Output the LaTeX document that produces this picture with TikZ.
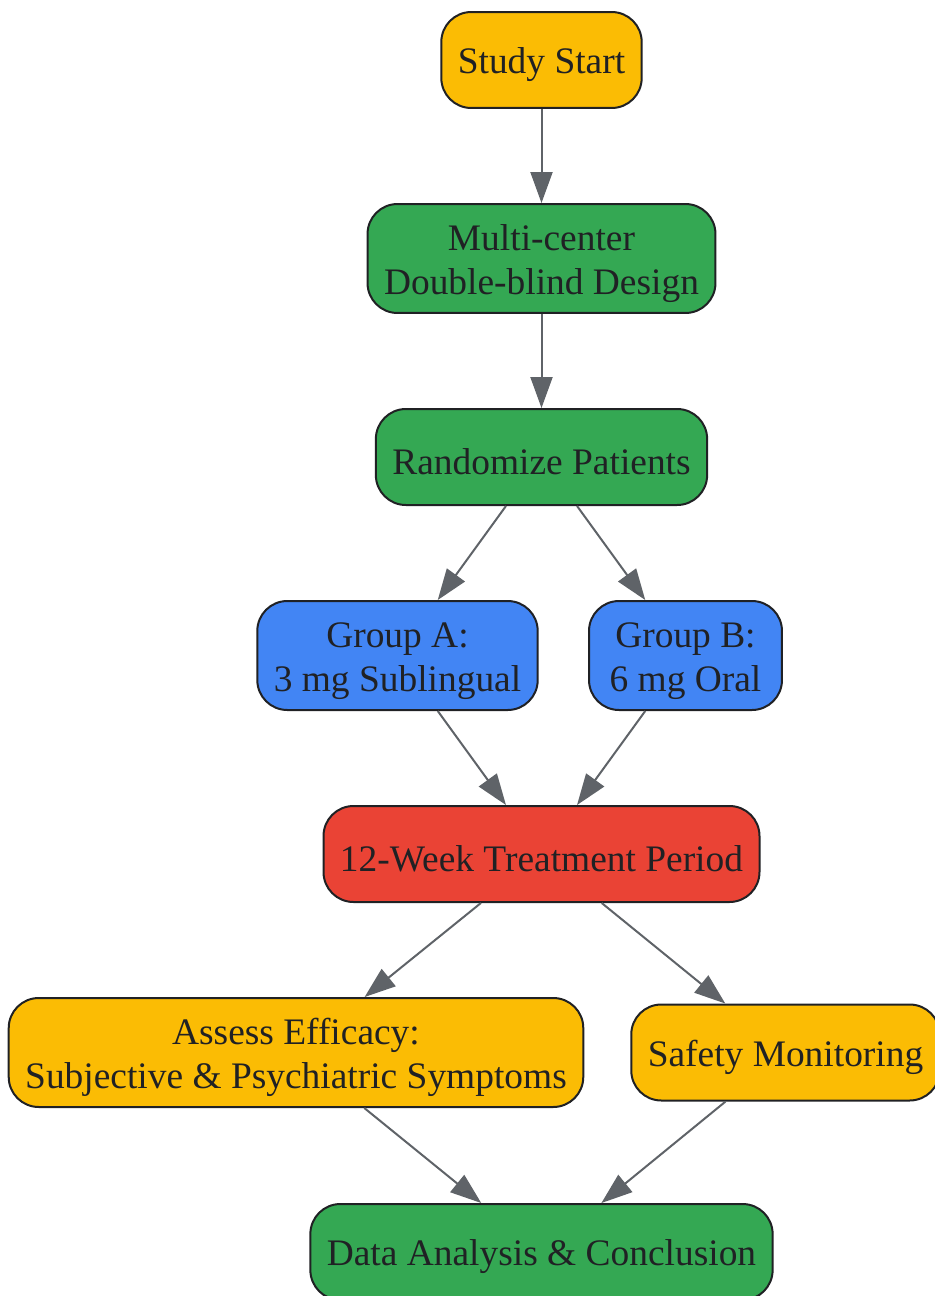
\documentclass[tikz,border=0pt]{standalone}
\usepackage{fontspec}
\setmainfont{Liberation Serif}
\usetikzlibrary{arrows.meta}

\definecolor{stepyellow}{HTML}{FBBC04}
\definecolor{stepgreen}{HTML}{34A853}
\definecolor{stepblue}{HTML}{4285F4}
\definecolor{stepred}{HTML}{EA4335}
\definecolor{inkgray}{HTML}{202124}
\definecolor{linkgray}{HTML}{5F6368}

% strut that pulls the first line down a little
\newcommand{\lift}{\rule{0pt}{20.5pt}}

\begin{document}
\begin{tikzpicture}[x = 0.02cm, y = -0.02cm, > = {Triangle[length = 0.62cm, width = 0.44cm]},
	stage/.style = {draw = inkgray, line width = 0.04cm, rounded corners = 0.6cm, text = inkgray,
		align = center, inner xsep = 0.33cm, inner ysep = 0cm, font = \fontsize{21.3}{25}\selectfont},
	oneline/.style = {stage, minimum height = 1.92cm},
	twoline/.style = {stage, minimum height = 2.18cm},
	link/.style = {->, draw = linkgray, fill = linkgray, line width = 0.04cm}]

	\useasboundingbox (0, 0) rectangle (935, 1296);

	% Steps
	
	\node [oneline, fill = stepyellow] (start) at (541.5, 60) {\lift Study Start};
	\node [twoline, fill = stepgreen] (design) at (541.5, 258.5) {\lift Multi-center\\Double-blind Design};
	\node [oneline, fill = stepgreen] (random) at (541.5, 457) {\lift Randomize Patients};
	\node [twoline, fill = stepblue, minimum width = 3.86cm] (groupa) at (397.5, 655.5) {\lift Group A:\\3 mg Sublingual};
	\node [twoline, fill = stepblue, minimum width = 3.86cm] (groupb) at (685.5, 655.5) {\lift Group B:\\6 mg Oral};
	\node [oneline, fill = stepred] (treat) at (541.5, 854) {\lift 12-Week Treatment Period};
	\node [twoline, fill = stepyellow] (efficacy) at (296, 1052.5) {\lift Assess Efficacy:\\Subjective \& Psychiatric Symptoms};
	\node [oneline, fill = stepyellow] (safety) at (785.5, 1052.5) {\lift Safety Monitoring};
	\node [oneline, fill = stepgreen] (analysis) at (541.5, 1252) {\lift Data Analysis \& Conclusion};
	
	% Links
	
	\draw [link] (start) -- (design);
	\draw [link] (design) -- (random);
	\foreach \g in {groupa, groupb}
	{
		\draw [link] (random) -- (\g);
		\draw [link] (\g) -- (treat);
	}
	\foreach \a in {efficacy, safety}
	{
		\draw [link] (treat) -- (\a);
		\draw [link] (\a) -- (analysis);
	}

\end{tikzpicture}
\end{document}
